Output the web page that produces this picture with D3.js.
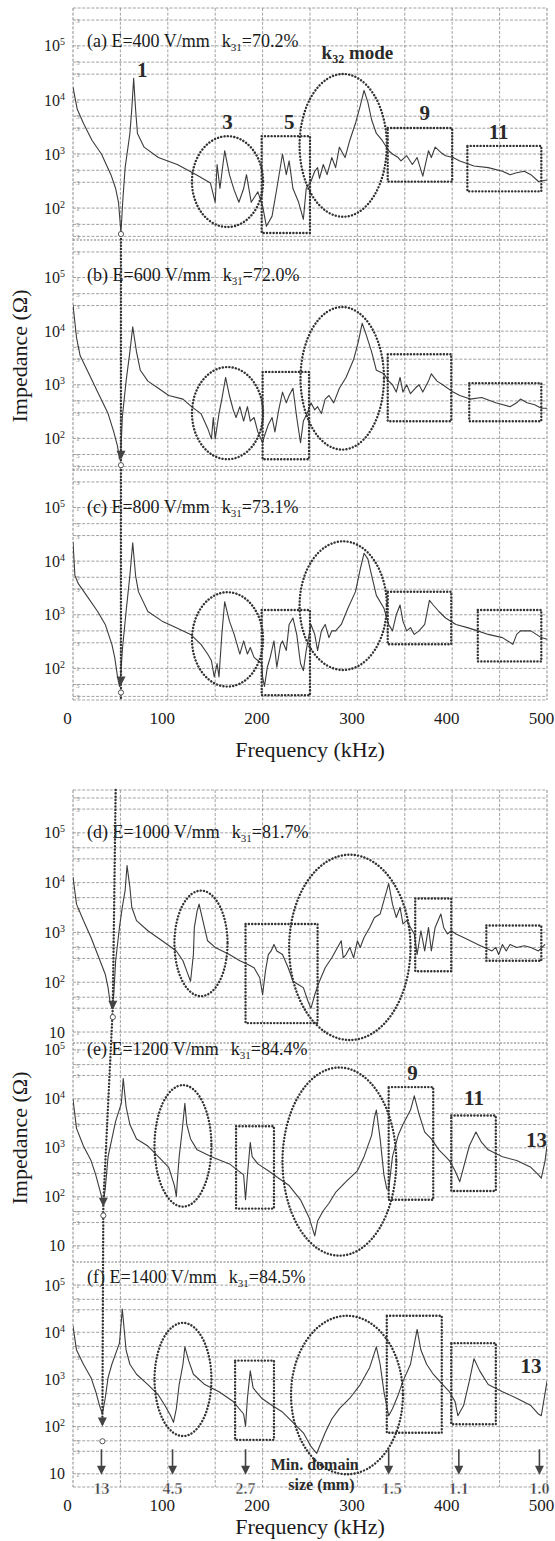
<!DOCTYPE html>
<html>
<head>
<meta charset="utf-8">
<script src="https://cdn.jsdelivr.net/npm/d3@7"></script>
<style>
  body { margin: 0; background: #fff; }
  svg { display: block; }
  text { font-family: "Liberation Serif", "DejaVu Serif", serif; }
</style>
</head>
<body>
<div id="chart"></div>
<script>
// ---- data (frequency in kHz, impedance in ohm) ----
const freqA = [0,4.5,11,20,30,40,45,48,50.6,52.4,55,60,62,64,66,68,75,90,110,130,145,150,152,155,160,165,170,175,180,183,188,195,200,204,210,215,221,225,228,232,238,243,246,251,255,258,260,264,268,273,277,281,287,292,298,303,307,311,315,320,326,333,337,343,346,352,358,363,369,375,378,382,388,393,401,408,423,438,453,461,468,476,483,491,500];
const impA = [17000,6700,3700,1800,1000,415,230,128,35,128,560,2400,6700,25000,6700,2400,1340,860,640,415,290,128,640,230,1150,415,215,128,230,415,128,200,110,46,71,230,1000,415,745,230,128,62,230,310,480,560,355,640,415,860,560,1340,860,1800,3700,7800,15000,9100,4300,2400,1800,1150,1000,860,745,930,640,860,390,1150,860,1340,1070,930,860,745,600,560,480,415,450,480,415,310,330];

const freqB = [0,3.7,7.5,15,26,37,43,47,49,50.5,52,56,60,63,67,71,79,90,101,116,125,135,142,146,148,150,154,157,161,165,169,172,176,180,184,187,191,195,200,202,206,210,213,217,221,225,228,232,236,240,243,247,251,255,258,262,266,270,275,281,288,296,301,305,309,315,320,328,333,337,341,345,348,352,356,361,365,369,375,378,384,390,401,408,419,431,446,461,468,472,479,487,494,500];
const impB = [31000,7600,3500,1860,730,290,132,71,41,60,245,1170,4100,12000,4100,1860,1170,860,630,540,390,290,155,98,245,98,290,540,1370,630,340,245,390,210,390,210,245,132,83,112,180,245,132,340,730,460,630,860,245,83,210,290,460,340,390,290,540,630,460,860,1370,2950,6400,14000,8900,4100,1860,1600,1170,1000,730,1370,730,1000,680,860,1000,730,1170,1600,1170,1000,730,630,540,580,460,390,460,540,460,425,365,365];

const freqC = [0,2,5.6,15,26,34,41,44,47,49,50.5,52,56,60,63,66,69,79,94,109,124,135,142,146,149,152,154,157,160,165,170,176,180,184,187,191,195,199,200,202,205,208,212,215,219,221,225,228,232,236,240,243,246,251,255,258,262,266,270,273,277,283,290,298,303,307,311,315,320,328,333,337,341,345,348,352,356,360,365,371,376,380,386,393,404,416,427,438,453,464,468,472,483,494,500];
const impC = [23000,5400,3800,2200,1150,660,280,160,69,46,80,215,1150,5400,22000,5400,2700,1150,760,575,430,280,185,140,69,123,69,430,1750,760,430,185,325,185,245,160,140,123,69,46,105,160,325,105,280,325,215,660,870,430,123,91,215,660,430,215,500,660,375,500,500,660,1320,2700,7100,14000,11000,5400,2300,1320,660,500,1000,1520,760,500,575,430,500,660,1860,1520,1150,870,660,575,500,430,375,280,430,500,500,375,350];

const freqD = [0,3.7,11,19,26,34,37,39,41,43,45,49,52,55,57,60,62,67,79,94,109,116,120,124,127,128,131,133,137,142,150,165,176,184,191,197,200,203,206,209,212,215,221,227,232,238,243,248,251,255,260,266,273,279,283,285,288,292,296,300,303,307,313,318,324,328,331,333,337,341,345,348,352,356,360,363,367,371,375,378,382,388,391,395,399,404,412,419,427,434,442,446,449,453,457,461,468,476,483,491,498];
const impD = [13000,3700,1730,790,360,145,78,41,30,56,270,1260,3200,7000,22000,8100,3200,1730,1080,680,425,270,167,105,360,1260,2750,3700,1730,680,500,360,270,230,195,123,56,167,360,425,575,425,360,195,105,89,78,41,30,56,105,195,310,500,680,310,360,500,310,680,500,790,1260,2000,2350,4400,7000,9600,3700,2000,3200,1480,1730,1260,930,360,1080,425,1260,425,1260,2350,1260,930,1080,930,790,680,575,500,425,500,360,575,425,575,500,540,500,425,575];

const freqE = [0,3.7,11,19,24,28,32,34,37,41,45,51,53,56,60,67,79,90,101,107,109,110,112,115,118,120,124,131,146,165,180,182,184,187,189,195,206,217,228,240,249,255,258,264,270,277,288,300,307,315,318,320,324,328,331,333,337,343,348,356,360,365,371,378,386,393,397,403,408,412,418,425,431,438,453,468,483,491,494,498,500];
const impE = [9800,2500,1090,550,280,145,74,145,660,1520,3500,8100,26000,6900,3000,1520,1090,660,400,170,102,204,660,2100,8100,3000,1520,910,660,470,280,87,280,1290,660,470,340,240,170,87,38,16,32,52,74,123,204,340,660,1800,4200,5900,1520,280,145,145,660,1800,3000,5900,11500,4900,2100,1520,910,660,550,340,204,400,1090,2100,1290,910,660,550,400,280,240,550,1090];

const freqF = [0,3.7,11,19,24,28,31,34,37,41,49,52,56,60,67,79,90,97,103,106,109,112,116,118,122,127,139,154,169,180,182,184,187,190,199,210,221,232,243,251,257,260,266,273,281,292,303,313,320,324,328,333,337,343,348,356,363,367,373,380,390,397,403,406,412,418,423,429,438,453,468,483,491,494,500];
const impF = [13500,4200,2100,1090,550,280,185,400,1090,2100,5900,31000,4200,2100,1290,780,470,280,170,123,240,780,2100,4900,2500,1290,780,550,340,185,102,400,1520,660,400,280,204,123,74,38,27,38,74,145,240,400,780,1800,4900,2100,550,170,240,470,910,2100,11500,4200,2100,1290,780,550,340,170,280,910,2750,1520,780,550,400,280,185,170,910];

const panelLetters = ["a", "b", "c", "d", "e", "f"];
const fieldLabels = ["400", "600", "800", "1000", "1200", "1400"];
const k31Labels = ["70.2%", "72.0%", "73.1%", "81.7%", "84.4%", "84.5%"];
const freqTicks = [0, 100, 200, 300, 400, 500];
const domainFreqs = [30, 105, 182, 333, 407, 492];
const domainSizes = ["13", "4.5", "2.7", "1.5", "1.1", "1.0"];

// ---- layout ----
const W = 555, H = 1541, X0 = 73, X1 = 547;
const svg = d3.select("#chart").append("svg").attr("width", W).attr("height", H);
const x = d3.scaleLinear().domain([0, 500]).range([X0, X1]);

const series = [[freqA, impA], [freqB, impB], [freqC, impC], [freqD, impD], [freqE, impE], [freqF, impF]];
const layout = [
  { top: 8,    bottom: 240,  lo: 1.41, hi: 5.70, ticks: [1e2, 1e3, 1e4, 1e5], tdy: 1 },
  { top: 240,  bottom: 470,  lo: 1.41, hi: 5.70, ticks: [1e2, 1e3, 1e4, 1e5], tdy: 3 },
  { top: 470,  bottom: 700,  lo: 1.41, hi: 5.70, ticks: [1e2, 1e3, 1e4, 1e5], tdy: 5 },
  { top: 790,  bottom: 1043, lo: 0.78, hi: 5.86, ticks: [10, 1e2, 1e3, 1e4, 1e5], tdy: 5 },
  { top: 1043, bottom: 1262, lo: 0.67, hi: 5.14, ticks: [10, 1e2, 1e3, 1e4, 1e5], tdy: 5 },
  { top: 1262, bottom: 1487, lo: 0.72, hi: 5.49, ticks: [10, 1e2, 1e3, 1e4, 1e5], tdy: -2 }
];
const groups = [
  { top: 8, bottom: 700, ylab: 356, flab: 757 },
  { top: 790, bottom: 1487, ylab: 1138, flab: 1534 }
];

// annotation shapes, in (kHz, log10 ohm)
const notes = [
  { ell: [[163, 2.49, 37.5, 0.84], [285, 3.16, 46, 1.32]],
    box: [[199, 250, 1.54, 3.33], [332, 400, 2.49, 3.48], [416, 494, 2.31, 3.15]],
    num: [["1", 73, 4.56], ["3", 163, 3.6], ["5", 228, 3.6], ["9", 371, 3.76], ["11", 449, 3.41]] },
  { ell: [[163, 2.47, 37.5, 0.86], [284, 3.12, 44, 1.33]],
    box: [[200, 249, 1.61, 3.24], [332, 399, 2.32, 3.57], [418, 494, 2.32, 3.03]], num: [] },
  { ell: [[163, 2.54, 37.5, 0.88], [285, 3.17, 46, 1.2]],
    box: [[199, 250, 1.5, 3.09], [332, 399, 2.45, 3.43], [427, 494, 2.13, 3.09]], num: [] },
  { ell: [[135, 2.78, 28, 1.06], [292, 2.7, 64, 1.86]],
    box: [[182, 258, 1.18, 3.17], [361, 399, 2.22, 3.68], [436, 494, 2.43, 3.14]], num: [] },
  { ell: [[116, 3.04, 30, 1.24], [281, 2.72, 60, 1.92]],
    box: [[172, 212, 1.76, 3.44], [333, 380, 1.94, 4.24], [399, 446, 2.12, 3.66]],
    num: [["9", 358, 4.53], ["11", 423, 4.02], ["13", 489, 3.15]] },
  { ell: [[116, 3.0, 30, 1.2], [289, 2.67, 59, 1.68]],
    box: [[171, 212, 1.72, 3.4], [331, 389, 1.87, 4.35], [399, 446, 2.05, 3.77]],
    num: [["13", 483, 3.29]] }
];

const dotted = sel => sel.attr("fill", "none").attr("stroke", "#333")
  .attr("stroke-width", 2.4).attr("stroke-dasharray", "0.1 3.2").attr("stroke-linecap", "round");
const gridStyle = sel => sel.attr("stroke", "#8a8a8a").attr("stroke-width", 0.8).attr("stroke-dasharray", "3 1.6");

// vertical grid + frame per group
groups.forEach(gr => {
  svg.append("g").selectAll("line").data(d3.range(0, 501, 50)).join("line")
    .attr("x1", d => x(d)).attr("x2", d => x(d))
    .attr("y1", gr.top).attr("y2", gr.bottom)
    .call(gridStyle)
    .attr("stroke-width", d => (d === 0 || d === 500) ? 1 : 0.8);
  svg.append("line").attr("x1", X0).attr("x2", X1).attr("y1", gr.top).attr("y2", gr.top).call(gridStyle);
  svg.append("line").attr("x1", X0).attr("x2", X1).attr("y1", gr.bottom).attr("y2", gr.bottom).call(gridStyle);

  const xa = svg.append("g").attr("transform", `translate(-6,${gr.bottom})`)
    .call(d3.axisBottom(x).tickValues(freqTicks).tickSize(0).tickPadding(12));
  xa.select(".domain").remove();
  xa.selectAll("text").attr("font-family", "Liberation Serif, serif").attr("font-size", 17).attr("fill", "#1a1a1a");

  svg.append("text").attr("x", 310).attr("y", gr.flab).attr("text-anchor", "middle")
    .attr("font-size", 22).attr("fill", "#1a1a1a").text("Frequency (kHz)");
  svg.append("text").attr("transform", `translate(27,${gr.ylab}) rotate(-90)`).attr("text-anchor", "middle")
    .attr("font-size", 22).attr("fill", "#1a1a1a").text("Impedance (Ω)");
});

const yScales = [];

layout.forEach((p, i) => {
  const y = d3.scaleLog().domain([10 ** p.lo, 10 ** p.hi]).range([p.bottom, p.top]);
  yScales.push(y);
  const g = svg.append("g");

  // horizontal grid at 1, 3, 5 per decade
  const grid = [];
  for (let n = Math.floor(p.lo); n <= Math.ceil(p.hi); n++) {
    [1, 3, 5].forEach(m => {
      const lv = Math.log10(m) + n;
      if (lv > p.lo + 0.05 && lv < p.hi - 0.05) grid.push({ v: m * 10 ** n, m });
    });
  }
  g.selectAll("line.h").data(grid).join("line")
    .attr("x1", X0).attr("x2", X1).attr("y1", d => y(d.v)).attr("y2", d => y(d.v))
    .call(gridStyle);
  g.selectAll("text.m").data(grid).join("text")
    .attr("x", X0 + 3).attr("y", d => y(d.v) + 3)
    .attr("font-size", 7).attr("fill", "#888").text(d => d.m);
  if (i % 3 !== 0) {
    g.append("line").attr("x1", X0).attr("x2", X1).attr("y1", p.top).attr("y2", p.top)
      .attr("stroke", "#777").attr("stroke-width", 1).attr("stroke-dasharray", "2 1.5");
  }

  // y axis labels 10^n
  const ya = g.append("g").attr("transform", `translate(${X0},0)`)
    .call(d3.axisLeft(y).tickValues(p.ticks).tickSize(0).tickPadding(8));
  ya.select(".domain").remove();
  ya.selectAll("text").attr("font-family", "Liberation Serif, serif").attr("font-size", 16).attr("fill", "#1a1a1a")
    .each(function (d) {
      const t = d3.select(this), e = Math.round(Math.log10(d));
      t.text("");
      t.append("tspan").text("10");
      if (e > 1) t.append("tspan").attr("dy", -6).attr("font-size", 10).text(e);
    });

  // curve
  const clipId = "clip" + i;
  svg.append("clipPath").attr("id", clipId).append("rect")
    .attr("x", X0).attr("y", p.top).attr("width", X1 - X0).attr("height", p.bottom - p.top);
  const pts = d3.zip(series[i][0], series[i][1]);
  g.append("path").datum(pts).attr("clip-path", `url(#${clipId})`)
    .attr("fill", "none").attr("stroke", "#3c3c3c").attr("stroke-width", 1.1).attr("stroke-linejoin", "round")
    .attr("d", d3.line().x(d => x(d[0])).y(d => y(d[1])));

  // title
  const ty = y(1e5) + p.tdy;
  const tt = g.append("text").attr("x", 87).attr("y", ty).attr("font-size", 18).attr("fill", "#1a1a1a");
  tt.append("tspan").text(`(${panelLetters[i]}) E=${fieldLabels[i]} V/mm`);
  tt.append("tspan").attr("dx", 12).text("k");
  tt.append("tspan").attr("dy", 4).attr("font-size", 11).text("31");
  tt.append("tspan").attr("dy", -4).text("=" + k31Labels[i]);

  // annotation ellipses / boxes / numbers
  const nt = notes[i];
  nt.ell.forEach(([cf, cl, rf, rl]) => {
    g.append("ellipse").attr("cx", x(cf)).attr("cy", y(10 ** cl))
      .attr("rx", x(cf + rf) - x(cf)).attr("ry", y(10 ** (cl - rl)) - y(10 ** cl)).call(dotted);
  });
  nt.box.forEach(([f0, f1, l0, l1]) => {
    g.append("rect").attr("x", x(f0)).attr("y", y(10 ** l1))
      .attr("width", x(f1) - x(f0)).attr("height", y(10 ** l0) - y(10 ** l1)).call(dotted);
  });
  nt.num.forEach(([s, f, l]) => {
    g.append("text").attr("x", x(f)).attr("y", y(10 ** l) + 7).attr("text-anchor", "middle")
      .attr("font-size", 21).attr("font-weight", "bold").attr("fill", "#2a2a2a").text(s);
  });
});

// k32 mode label in panel (a)
const k32 = svg.append("text").attr("x", x(300)).attr("y", yScales[0](10 ** 4.88) + 7)
  .attr("text-anchor", "middle").attr("font-size", 19).attr("font-weight", "bold").attr("fill", "#2a2a2a");
k32.append("tspan").text("k");
k32.append("tspan").attr("dy", 4).attr("font-size", 12).text("32");
k32.append("tspan").attr("dy", -4).text(" mode");

// guide lines linking the fundamental minima
const arrowHead = (px, py) => svg.append("path")
  .attr("d", `M${px - 4.5},${py - 9} L${px + 4.5},${py - 9} L${px},${py} Z`).attr("fill", "#444");
const ring = (px, py) => svg.append("circle").attr("cx", px).attr("cy", py).attr("r", 2.6)
  .attr("fill", "#fff").attr("stroke", "#555").attr("stroke-width", 1);

// group 1: vertical dotted line at the first minimum
const gx = x(50.6);
svg.append("line").attr("x1", gx).attr("x2", gx).attr("y1", yScales[0](10 ** 1.55)).attr("y2", layout[2].bottom).call(dotted);
ring(gx, yScales[0](10 ** 1.52));
arrowHead(gx, yScales[1](10 ** 1.6));
ring(gx, yScales[1](10 ** 1.5));
arrowHead(gx, yScales[2](10 ** 1.68));
ring(gx, yScales[2](10 ** 1.55));

// group 2: dotted path through (d), (e), (f) minima
const guide = [
  [x(45), layout[3].top],
  [x(42), yScales[3](10 ** 1.5)],
  [x(32), yScales[4](10 ** 1.87)],
  [x(31), yScales[5](10 ** 2.05)]
];
svg.append("path").attr("d", d3.line()(guide)).call(dotted);
arrowHead(x(42), yScales[3](10 ** 1.45));
ring(x(42), yScales[3](10 ** 1.3));
arrowHead(x(32), yScales[4](10 ** 1.8));
ring(x(32), yScales[4](10 ** 1.62));
arrowHead(x(31), yScales[5](10 ** 2.0));
ring(x(31), yScales[5](10 ** 1.69));

// minimum domain size arrows in (f)
const yf = yScales[5];
domainFreqs.forEach((f, k) => {
  const px = x(f);
  svg.append("line").attr("x1", px).attr("x2", px).attr("y1", yf(10 ** 1.52)).attr("y2", yf(10 ** 1.08))
    .attr("stroke", "#444").attr("stroke-width", 1.6);
  arrowHead(px, yf(10 ** 0.98));
  svg.append("text").attr("x", Math.min(px + (k === 3 ? 3 : 0), 540)).attr("y", yf(10 ** 0.98) + 19)
    .attr("text-anchor", "middle").attr("font-size", 16).attr("font-weight", "bold")
    .attr("fill", "#3a3a3a").attr("stroke", "#fff").attr("stroke-width", 0.4).text(domainSizes[k]);
});
svg.append("text").attr("x", x(255)).attr("y", yf(10 ** 1.21) + 6).attr("text-anchor", "middle")
  .attr("font-size", 16).attr("font-weight", "bold").attr("fill", "#2a2a2a").text("Min. domain");
svg.append("text").attr("x", x(262)).attr("y", yf(10 ** 0.74) + 4).attr("text-anchor", "middle")
  .attr("font-size", 16).attr("font-weight", "bold").attr("fill", "#2a2a2a").text("size (mm)");
</script>
</body>
</html>
